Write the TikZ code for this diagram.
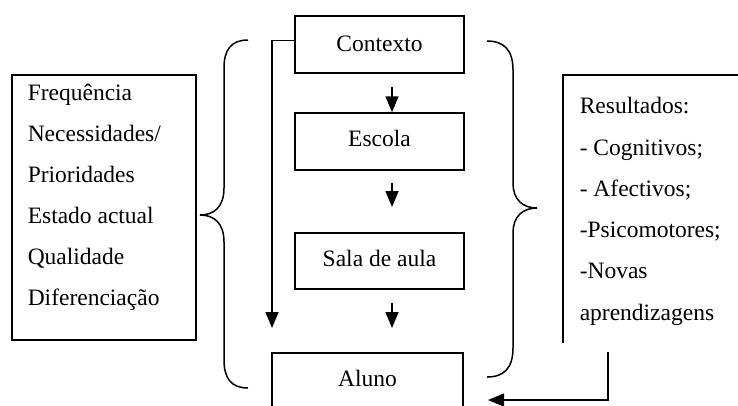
\documentclass[tikz,border=0pt]{standalone}
\usepackage{fontspec}
\setmainfont{Liberation Serif}
\usetikzlibrary{arrows.meta}
\begin{document}
\begin{tikzpicture}[x=1pt,y=-1pt,
  line width=1.5pt,
  box/.style={draw,line width=1.5pt,minimum width=169pt,inner sep=0pt},
  txt/.style={anchor=base west,inner sep=0pt,font=\fontsize{23.5}{27}\selectfont},
  ctxt/.style={inner sep=0pt,font=\fontsize{23.5}{27}\selectfont},
  arr/.style={-{Triangle[width=13pt,length=16pt]},line width=1.5pt},
  brace/.style={line width=1.5pt}]
\useasboundingbox (0,0) rectangle (738,405);
\clip (0,0) rectangle (738,405);
% left box
\draw (12,75) rectangle (196,340);
\node[txt] (l1) at (27,100) {Frequência};
\node[txt] (l2) at (27,141) {Necessidades/};
\node[txt] (l3) at (27,182) {Prioridades};
\node[txt] (l4) at (27,223) {Estado actual};
\node[txt] (l5) at (27,264) {Qualidade};
\node[txt] (l6) at (27,305) {Diferenciação};
% left brace
\draw[brace] (248,40) .. controls (231,40) and (224,50) .. (224,68)
  -- (224,188) .. controls (224,207) and (214,215) .. (200,215)
  .. controls (214,215) and (224,223) .. (224,242)
  -- (224,360) .. controls (224,378) and (231,388) .. (248,388);
% central boxes
\node[box,minimum height=57pt] (ctx) at (379.5,44.5) {};
\node[ctxt] (ctxt) at (379.5,44) {Contexto};
\node[box,minimum height=57pt] (esc) at (379.5,141.5) {};
\node[ctxt] (esct) at (379.5,138) {Escola};
\node[box,minimum height=56pt] (sala) at (379.5,261) {};
\node[ctxt] (salat) at (379.5,258) {Sala de aula};
\draw (272,353) rectangle (463,420);
\node[ctxt] (aluno) at (367.5,378) {Aluno};
% arrows
\coordinate (a1s) at (392,87);
\coordinate (a2s) at (392,183);
\coordinate (a2e) at (392,207);
\coordinate (a3s) at (392,303);
\coordinate (a3e) at (392,328);
\draw[arr] (a1s) -- (esc.north -| a1s);
\draw[arr] (a2s) -- (a2e);
\draw[arr] (a3s) -- (a3e);
\coordinate (lc) at (272,328);
\draw[arr] (ctx.west |- 0,40.5) -- (272,40.5) -- (lc);
% right brace
\draw[brace] (487,41) .. controls (504,41) and (513,50) .. (513,70)
  -- (513,183) .. controls (513,200) and (523,208) .. (537,208)
  .. controls (523,208) and (513,216) .. (513,233)
  -- (513,348) .. controls (513,368) and (504,377) .. (487,377);
% right box (open)
\draw (563,343) -- (563,75) -- (740,75);
\node[txt] (r1) at (579,113) {Resultados:};
\node[txt] (r2) at (579,155) {- Cognitivos;};
\node[txt] (r3) at (579,196) {- Afectivos;};
\node[txt] (r4) at (579,237) {-Psicomotores;};
\node[txt] (r5) at (579,278) {-Novas};
\node[txt] (r6) at (579,320) {aprendizagens};
% bottom arrow
\coordinate (b1) at (608,352);
\coordinate (b2) at (608,400);
\coordinate (b3) at (488,400);
\draw[arr] (b1) -- (b2) -- (b3);
\end{tikzpicture}
\end{document}
